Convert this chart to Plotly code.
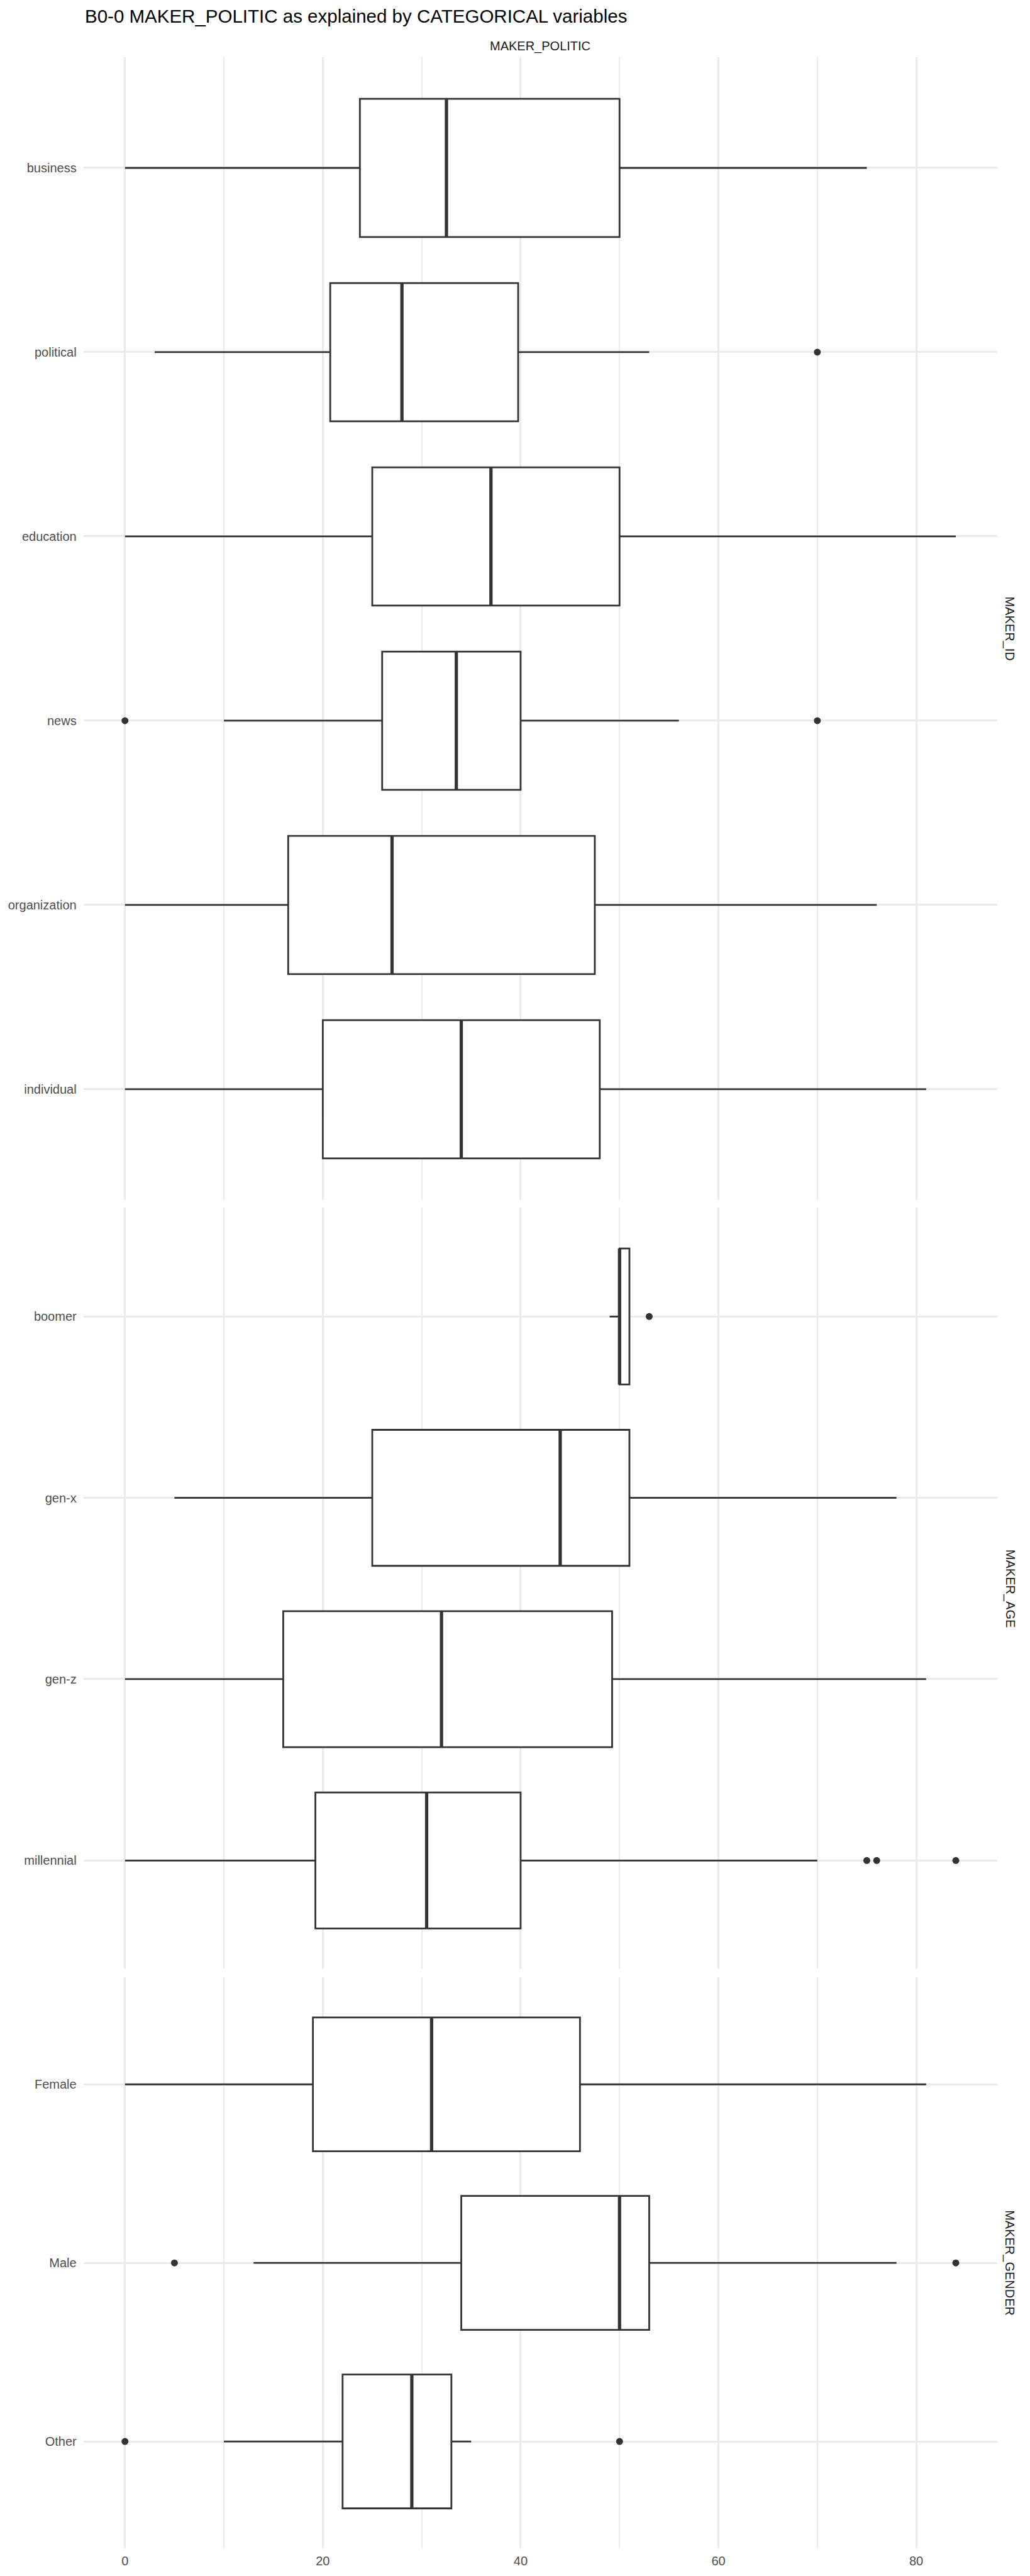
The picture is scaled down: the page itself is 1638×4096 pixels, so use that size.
import plotly.graph_objects as go

# ---------------- data ----------------
id_cats = ["business", "political", "education", "news", "organization", "individual"]
id_low = [0, 3, 0, 10, 0, 0]
id_q1 = [23.75, 20.75, 25, 26, 16.5, 20]
id_med = [32.5, 28, 37, 33.5, 27, 34]
id_q3 = [50, 39.75, 50, 40, 47.5, 48]
id_high = [75, 53, 84, 56, 76, 81]
id_out = [[], [70], [], [0, 70], [], []]

age_cats = ["boomer", "gen-x", "gen-z", "millennial"]
age_low = [49, 5, 0, 0]
age_q1 = [50, 25, 16, 19.25]
age_med = [50, 44, 32, 30.5]
age_q3 = [51, 51, 49.25, 40]
age_high = [51, 78, 81, 70]
age_out = [[53], [], [], [75, 76, 84]]

gen_cats = ["Female", "Male", "Other"]
gen_low = [0, 13, 10]
gen_q1 = [19, 34, 22]
gen_med = [31, 50, 29]
gen_q3 = [46, 53, 33]
gen_high = [81, 78, 35]
gen_out = [[], [5, 84], [0, 50]]

facet_labels = ["MAKER_ID", "MAKER_AGE", "MAKER_GENDER"]
x_ticks = [0, 20, 40, 60, 80]
title_text = "B0-0 MAKER_POLITIC as explained by CATEGORICAL variables"
strip_top = "MAKER_POLITIC"

# ---------------- layout geometry (pixels) ----------------
W, H = 1638, 4096
px_left, px_right = 132.7, 1586.1
panels_px = [(91.2, 1907.7), (1920.3, 3131.3), (3143.9, 4052.4)]
BOX_W = 0.75
LINE = "#333333"
GRID = "#EBEBEB"
FONT = "Liberation Sans, Arial, sans-serif"

facets = [
    (id_cats, id_low, id_q1, id_med, id_q3, id_high, id_out),
    (age_cats, age_low, age_q1, age_med, age_q3, age_high, age_out),
    (gen_cats, gen_low, gen_q1, gen_med, gen_q3, gen_high, gen_out),
]

fig = go.Figure()
layout = dict(
    width=W, height=H, margin=dict(l=0, r=0, t=0, b=0),
    paper_bgcolor="white", plot_bgcolor="white", showlegend=False,
    font=dict(family=FONT, color="#4D4D4D", size=20),
)
annotations = []

for k, (cats, low, q1, med, q3, high, outs) in enumerate(facets):
    sfx = "" if k == 0 else str(k + 1)
    xa, ya = "x" + sfx, "y" + sfx
    n = len(cats)
    pos = list(range(n))
    fig.add_trace(go.Box(
        y=pos, q1=q1, median=med, q3=q3, lowerfence=low, upperfence=high,
        orientation="h", width=BOX_W, whiskerwidth=0,
        fillcolor="white", line=dict(color=LINE, width=2.8),
        boxpoints=False, xaxis=xa, yaxis=ya, hoverinfo="skip",
    ))
    # thicker median line (ggplot fatten = 2)
    for p, m in zip(pos, med):
        fig.add_trace(go.Scatter(
            x=[m, m], y=[p - BOX_W / 2, p + BOX_W / 2], mode="lines",
            line=dict(color=LINE, width=5.2), xaxis=xa, yaxis=ya, hoverinfo="skip",
        ))
    ox, oy = [], []
    for p, o in zip(pos, outs):
        ox += o
        oy += [p] * len(o)
    if ox:
        fig.add_trace(go.Scatter(
            x=ox, y=oy, mode="markers",
            marker=dict(color=LINE, size=11, line=dict(width=0)),
            xaxis=xa, yaxis=ya, hoverinfo="skip",
        ))

    top, bot = panels_px[k]
    layout["xaxis" + sfx] = dict(
        domain=[px_left / W, px_right / W], range=[-4.2, 88.2], anchor=ya,
        tickmode="array", tickvals=x_ticks, ticktext=[str(v) for v in x_ticks],
        showticklabels=(k == 2), showgrid=True, gridcolor=GRID, gridwidth=3.2,
        zeroline=False, showline=False, ticks="",
        minor=dict(tickvals=[10, 30, 50, 70], showgrid=True, gridcolor=GRID, gridwidth=1.6),
        tickfont=dict(size=20, color="#4D4D4D", family=FONT),
        ticklabelstandoff=6,
        fixedrange=True,
    )
    if k > 0:
        layout["xaxis" + sfx]["matches"] = "x"
    layout["yaxis" + sfx] = dict(
        domain=[1 - bot / H, 1 - top / H], range=[n - 1 + 0.6, -0.6], anchor=xa,
        tickmode="array", tickvals=pos, ticktext=cats,
        showgrid=True, gridcolor=GRID, gridwidth=3.2, zeroline=False, showline=False,
        ticks="", tickfont=dict(size=20, color="#4D4D4D", family=FONT),
        ticklabelstandoff=10, fixedrange=True,
    )
    annotations.append(dict(
        text=facet_labels[k], xref="paper", yref="paper",
        x=1606 / W, y=1 - (top + bot) / 2 / H, xanchor="center", yanchor="middle",
        textangle=90, showarrow=False,
        font=dict(size=20, color="#1A1A1A", family=FONT),
    ))

annotations.append(dict(
    text=strip_top, xref="paper", yref="paper",
    x=(px_left + px_right) / 2 / W, y=1 - 73.5 / H, xanchor="center", yanchor="middle",
    showarrow=False, font=dict(size=20, color="#1A1A1A", family=FONT),
))
annotations.append(dict(
    text=title_text, xref="paper", yref="paper",
    x=133 / W, y=1 - 25 / H, xanchor="left", yanchor="middle",
    showarrow=False, font=dict(size=29.5, color="black", family=FONT),
))
layout["annotations"] = annotations
fig.update_layout(**layout)
fig.write_html("out.html")
